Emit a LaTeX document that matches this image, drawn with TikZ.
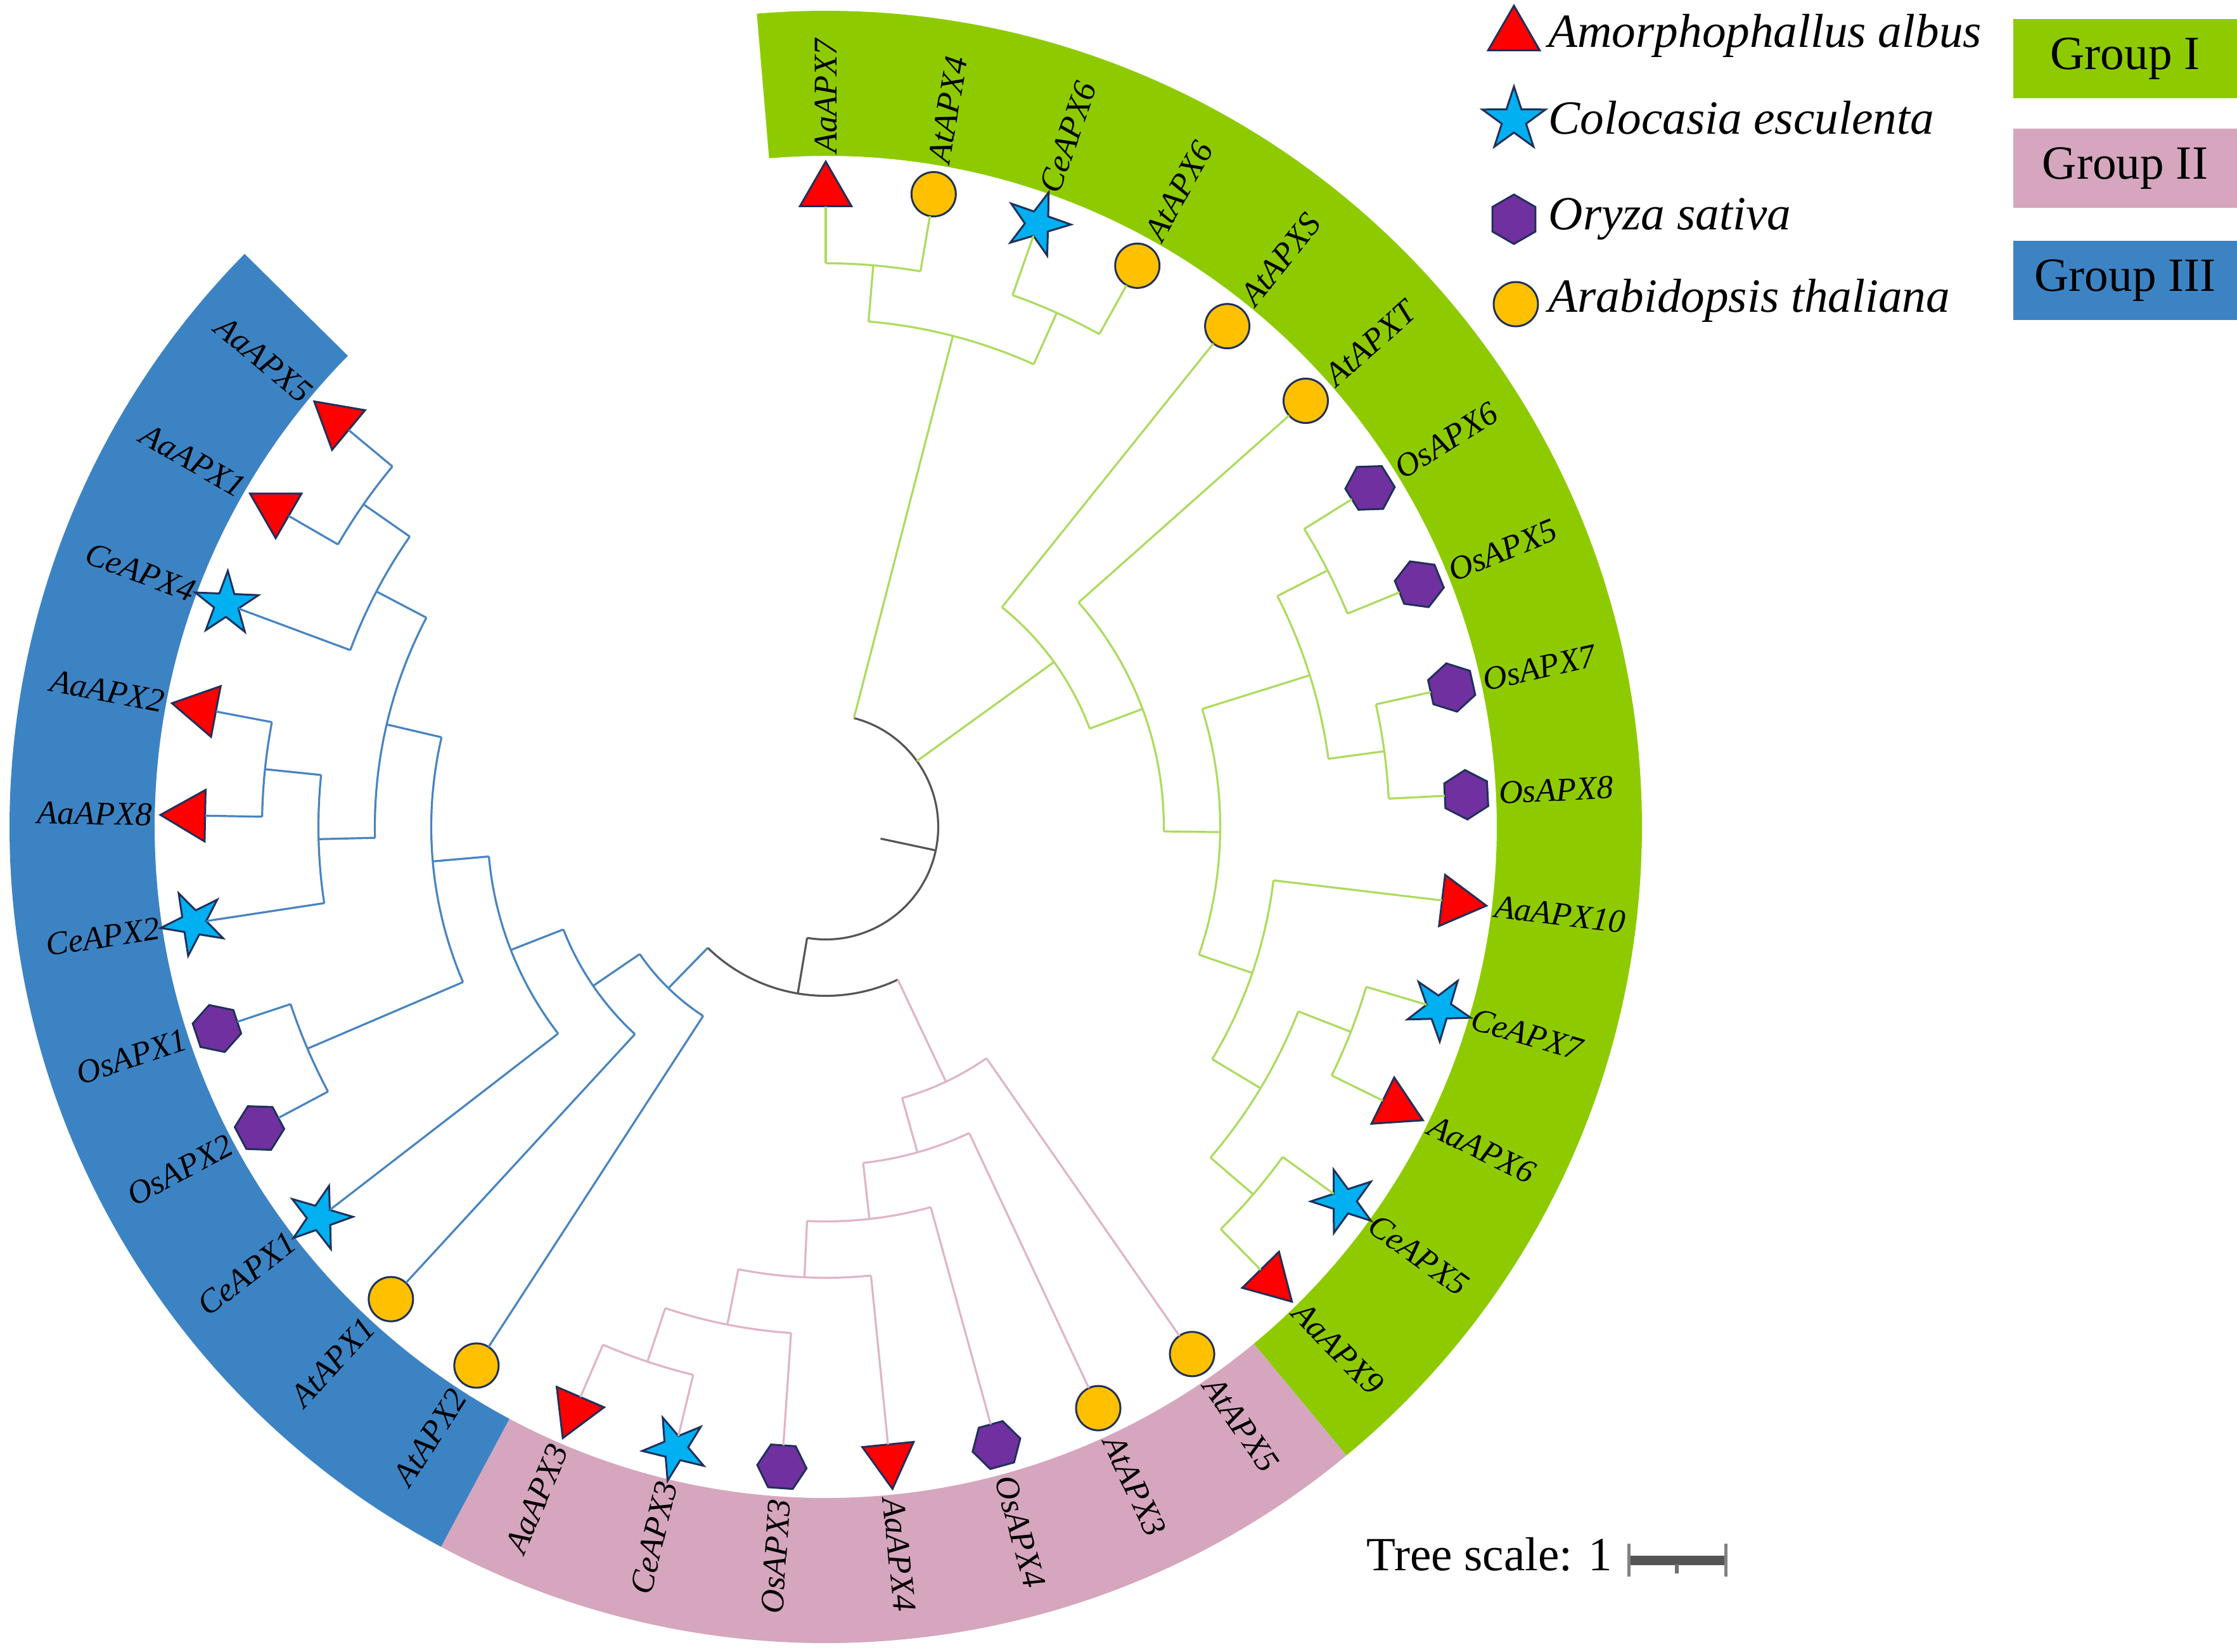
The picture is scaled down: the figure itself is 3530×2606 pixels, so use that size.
\documentclass[tikz,border=0pt]{standalone}
\usepackage{fontspec}
\setmainfont{Liberation Serif}
\usetikzlibrary{shapes.geometric}
\definecolor{bandG}{RGB}{141,203,0}
\definecolor{bandP}{RGB}{213,166,190}
\definecolor{bandB}{RGB}{60,131,196}
\definecolor{lineG}{RGB}{172,219,94}
\definecolor{lineP}{RGB}{224,180,200}
\definecolor{lineB}{RGB}{72,132,192}
\definecolor{lineK}{RGB}{85,85,85}
\definecolor{symred}{RGB}{255,0,0}
\definecolor{symcyan}{RGB}{0,176,240}
\definecolor{sympurple}{RGB}{112,48,160}
\definecolor{symgold}{RGB}{255,192,0}
\definecolor{navy}{RGB}{31,48,90}
\tikzset{
  brG/.style={draw=lineG, line width=0.32mm},
  brP/.style={draw=lineP, line width=0.32mm},
  brB/.style={draw=lineB, line width=0.32mm},
  brK/.style={draw=lineK, line width=0.32mm},
  sym/.style={draw=navy, line width=0.3mm, inner sep=0pt, outer sep=0pt},
  tri/.style={sym, regular polygon, regular polygon sides=3, minimum size=9.4mm, fill=symred, rotate=#1-90},
  str/.style={sym, star, star points=5, star point ratio=2.6, minimum size=10.5mm, fill=symcyan, rotate=#1-90},
  hex/.style={sym, regular polygon, regular polygon sides=6, minimum size=7.8mm, fill=sympurple, rotate=#1+30},
  cir/.style={sym, circle, minimum size=7mm, fill=symgold},
  lab/.style={font=\fontsize{14.9}{16}\selectfont\itshape, inner sep=0pt},
  legtxt/.style={font=\fontsize{21.4}{24}\selectfont\itshape, inner sep=0pt, anchor=base west},
  grp/.style={font=\fontsize{21.4}{24}\selectfont, inner sep=0pt, minimum width=35.3mm, minimum height=12.5mm},
}
\def\rtri{1003}
\def\rstr{1009}
\def\rhex{1012}
\def\rcir{1013}
\newcommand\tarc[4]{\draw[#1] (#2:#4) arc[start angle=#2, end angle=#3, radius=#4];}
\newcommand\tbr[4]{\draw[#1] (#2:#3) -- (#2:#4);}
\newcommand\leaf[5]{%
  \pgfmathsetmacro\la{90-9.68*#1}%
  \node[#3=\la] (s#1) at (\la:\csname r#3\endcsname) {};
  \draw[#4] (\la:#5) -- (s#1);
  \ifdim\la pt>-90pt
    \node[lab, rotate=\la, anchor=west] (l#1) at (\la:1063) {#2};
  \else
    \node[lab, rotate=\la+180, anchor=east] (l#1) at (\la:1063) {#2};
  \fi
}
\begin{document}
\begin{tikzpicture}[x=0.1mm, y=0.1mm]
\useasboundingbox (-1303,-1301) rectangle (2227,1305);
% group bands
\fill[bandG] (94.84:1059) arc[start angle=94.84, end angle=-50.36, radius=1059] -- (-50.36:1288) arc[start angle=-50.36, end angle=94.84, radius=1288] -- cycle;
\fill[bandP] (-50.36:1059) arc[start angle=-50.36, end angle=-118.12, radius=1059] -- (-118.12:1288) arc[start angle=-118.12, end angle=-50.36, radius=1288] -- cycle;
\fill[bandB] (-118.12:1059) arc[start angle=-118.12, end angle=-224.6, radius=1059] -- (-224.6:1288) arc[start angle=-224.6, end angle=-118.12, radius=1288] -- cycle;
% root
\tbr{brK}{-12.02}{88.5}{177.5}
\tarc{brK}{75.48}{-99.52}{177.5}
\tbr{brG}{75.48}{177.5}{800.5}
\tbr{brG}{35.85}{177.5}{444.5}
\tbr{brK}{-99.52}{177.5}{266.5}
% group I
\tarc{brG}{85.16}{65.80}{800.5}
\tbr{brG}{85.16}{800.5}{889.5}
\tbr{brG}{65.80}{800.5}{889.5}
\tarc{brG}{90}{80.32}{889.5}
\tarc{brG}{70.64}{60.96}{889.5}
\tarc{brG}{51.28}{20.43}{444.5}
\tbr{brG}{20.43}{444.5}{533.5}
\tarc{brG}{41.6}{-0.75}{533.5}
\tbr{brG}{-0.75}{533.5}{622.5}
\tarc{brG}{17.40}{-18.90}{622.5}
\tbr{brG}{17.40}{622.5}{800.5}
\tbr{brG}{-18.90}{622.5}{711.5}
\tarc{brG}{27.08}{7.72}{800.5}
\tbr{brG}{27.08}{800.5}{889.5}
\tbr{brG}{7.72}{800.5}{889.5}
\tarc{brG}{31.92}{22.24}{889.5}
\tarc{brG}{12.56}{2.88}{889.5}
\tarc{brG}{-6.8}{-31.0}{711.5}
\tbr{brG}{-31.0}{711.5}{800.5}
\tarc{brG}{-21.32}{-40.68}{800.5}
\tbr{brG}{-21.32}{800.5}{889.5}
\tbr{brG}{-40.68}{800.5}{889.5}
\tarc{brG}{-16.48}{-26.16}{889.5}
\tarc{brG}{-35.84}{-45.52}{889.5}
% N2
\tarc{brK}{-64.73}{-134.3}{266.5}
\tbr{brP}{-64.73}{266.5}{444.5}
\tbr{brB}{-134.3}{266.5}{355.5}
% group II
\tarc{brP}{-55.2}{-74.26}{444.5}
\tbr{brP}{-74.26}{444.5}{533.5}
\tarc{brP}{-64.88}{-83.64}{533.5}
\tbr{brP}{-83.64}{533.5}{622.5}
\tarc{brP}{-74.56}{-92.71}{622.5}
\tbr{brP}{-92.71}{622.5}{711.5}
\tarc{brP}{-84.24}{-101.18}{711.5}
\tbr{brP}{-101.18}{711.5}{800.5}
\tarc{brP}{-93.92}{-108.44}{800.5}
\tbr{brP}{-108.44}{800.5}{889.5}
\tarc{brP}{-103.6}{-113.28}{889.5}
% group III
\tarc{brB}{-122.96}{-145.65}{355.5}
\tbr{brB}{-145.65}{355.5}{444.5}
\tarc{brB}{-132.64}{-158.66}{444.5}
\tbr{brB}{-158.66}{444.5}{533.5}
\tarc{brB}{-142.32}{-174.99}{533.5}
\tbr{brB}{-174.99}{533.5}{622.5}
\tarc{brB}{-156.84}{-193.14}{622.5}
\tbr{brB}{-156.84}{622.5}{889.5}
\tbr{brB}{-193.14}{622.5}{711.5}
\tarc{brB}{-152.0}{-161.68}{889.5}
\tarc{brB}{-178.62}{-207.66}{711.5}
\tbr{brB}{-178.62}{711.5}{800.5}
\tbr{brB}{-207.66}{711.5}{800.5}
\tarc{brB}{-171.36}{-185.88}{800.5}
\tbr{brB}{-185.88}{800.5}{889.5}
\tarc{brB}{-181.04}{-190.72}{889.5}
\tarc{brB}{-200.4}{-214.92}{800.5}
\tbr{brB}{-214.92}{800.5}{889.5}
\tarc{brB}{-210.08}{-219.76}{889.5}
% leaves
\leaf{0}{AaAPX7}{tri}{brG}{889.5}
\leaf{1}{AtAPX4}{cir}{brG}{889.5}
\leaf{2}{CeAPX6}{str}{brG}{889.5}
\leaf{3}{AtAPX6}{cir}{brG}{889.5}
\leaf{4}{AtAPXS}{cir}{brG}{444.5}
\leaf{5}{AtAPXT}{cir}{brG}{533.5}
\leaf{6}{OsAPX6}{hex}{brG}{889.5}
\leaf{7}{OsAPX5}{hex}{brG}{889.5}
\leaf{8}{OsAPX7}{hex}{brG}{889.5}
\leaf{9}{OsAPX8}{hex}{brG}{889.5}
\leaf{10}{AaAPX10}{tri}{brG}{711.5}
\leaf{11}{CeAPX7}{str}{brG}{889.5}
\leaf{12}{AaAPX6}{tri}{brG}{889.5}
\leaf{13}{CeAPX5}{str}{brG}{889.5}
\leaf{14}{AaAPX9}{tri}{brG}{889.5}
\leaf{15}{AtAPX5}{cir}{brP}{444.5}
\leaf{16}{AtAPX3}{cir}{brP}{533.5}
\leaf{17}{OsAPX4}{hex}{brP}{622.5}
\leaf{18}{AaAPX4}{tri}{brP}{711.5}
\leaf{19}{OsAPX3}{hex}{brP}{800.5}
\leaf{20}{CeAPX3}{str}{brP}{889.5}
\leaf{21}{AaAPX3}{tri}{brP}{889.5}
\leaf{22}{AtAPX2}{cir}{brB}{355.5}
\leaf{23}{AtAPX1}{cir}{brB}{444.5}
\leaf{24}{CeAPX1}{str}{brB}{533.5}
\leaf{25}{OsAPX2}{hex}{brB}{889.5}
\leaf{26}{OsAPX1}{hex}{brB}{889.5}
\leaf{27}{CeAPX2}{str}{brB}{800.5}
\leaf{28}{AaAPX8}{tri}{brB}{889.5}
\leaf{29}{AaAPX2}{tri}{brB}{889.5}
\leaf{30}{CeAPX4}{str}{brB}{800.5}
\leaf{31}{AaAPX1}{tri}{brB}{889.5}
\leaf{32}{AaAPX5}{tri}{brB}{889.5}
% legend
\node[tri=90] (kAa) at (1086,1249) {};
\node[legtxt] (tAa) at (1140,1230) {Amorphophallus albus};
\node[str=90] (kCe) at (1086,1116) {};
\node[legtxt] (tCe) at (1140,1093) {Colocasia esculenta};
\node[hex=0] (kOs) at (1086,959) {};
\node[legtxt] (tOs) at (1140,942) {Oryza sativa};
\node[cir] (kAt) at (1089,825) {};
\node[legtxt] (tAt) at (1140,812) {Arabidopsis thaliana};
\node[grp, fill=bandG] (g1) at (2050.5,1212.5) {Group I};
\node[grp, fill=bandP] (g2) at (2050.5,1039.5) {Group II};
\node[grp, fill=bandB] (g3) at (2050.5,862.5) {Group III};
% tree scale
\node[font=\fontsize{21.4}{24}\selectfont, inner sep=0pt, anchor=base west] (ts) at (853,-1173) {Tree scale: 1};
\coordinate (sbL) at (1267,-1157);
\coordinate (sbR) at (1420,-1157);
\draw[line width=1.5mm, draw={rgb,255:red,85;green,85;blue,85}] (sbL) -- (sbR);
\draw[line width=0.5mm, draw={rgb,255:red,130;green,130;blue,130}] (1267,-1131) -- (1267,-1183) (1420,-1131) -- (1420,-1183);
\draw[line width=0.6mm, draw={rgb,255:red,110;green,110;blue,110}] (1343,-1163) -- (1343,-1178);
\end{tikzpicture}
\end{document}
